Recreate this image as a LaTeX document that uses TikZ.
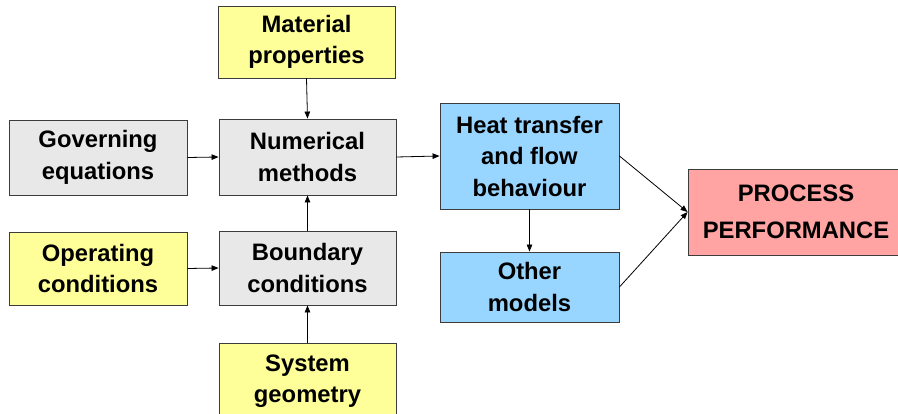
\documentclass[tikz,border=0pt]{standalone}
\usepackage{fontspec}
\setmainfont{Liberation Sans}
\usetikzlibrary{arrows.meta}
\definecolor{boxyellow}{RGB}{255,255,153}
\definecolor{boxgray}{RGB}{232,232,232}
\definecolor{boxblue}{RGB}{153,214,255}
\definecolor{boxpink}{RGB}{255,163,163}
\definecolor{edgegray}{RGB}{60,60,60}
\tikzset{
  box/.style={draw=edgegray, line width=0.9pt, align=center, inner sep=0pt,
    font=\bfseries\fontsize{23.8}{31.5}\selectfont},
  inbox/.style={box, fill=boxyellow},
  midbox/.style={box, fill=boxgray},
  outbox/.style={box, fill=boxblue},
  resultbox/.style={box, fill=boxpink, font=\bfseries\fontsize{23.8}{37}\selectfont},
  flow/.style={draw=black, line width=0.8pt, -{Triangle[length=7pt,width=5.5pt]}}
}
\begin{document}
\begin{tikzpicture}[x=1pt,y=-1pt]
\useasboundingbox (0,0) rectangle (898,414);
% inputs and intermediate boxes
\node[inbox,  minimum width=177pt, minimum height=72pt] (mat) at (306.5,42)  {Material\\properties};
\node[midbox, minimum width=178pt, minimum height=75pt] (gov) at (98,157.5)  {Governing\\equations};
\node[midbox, minimum width=177pt, minimum height=76pt] (num) at (307.5,157) {Numerical\\methods};
\node[inbox,  minimum width=178pt, minimum height=73pt] (op)  at (98,268.5)  {Operating\\conditions};
\node[midbox, minimum width=177pt, minimum height=74pt] (bnd) at (307.5,268) {Boundary\\conditions};
\node[inbox,  minimum width=177pt, minimum height=76pt] (sys) at (307.5,381) {System\\geometry};
% model outputs
\node[outbox, minimum width=179pt, minimum height=106pt] (heat) at (529.5,156) {Heat transfer\\and flow\\behaviour};
\node[outbox, minimum width=179pt, minimum height=70pt]  (oth)  at (529.5,287) {Other\\models};
\node[resultbox, minimum width=216pt, minimum height=86pt] (proc) at (796,212) {PROCESS\\PERFORMANCE};
% connectors
\draw[flow] (mat.south) -- (num.north);
\draw[flow] (gov.east) -- (num.west);
\draw[flow] (op.east) -- (bnd.west);
\draw[flow] (sys.north) -- (bnd.south);
\draw[flow] (bnd.north) -- (num.south);
\draw[flow] (num.east) -- (heat.west);
\draw[flow] (heat.south) -- (oth.north);
\draw[flow] (heat.east) -- (proc.west);
\draw[flow] (oth.east) -- (proc.west);
\end{tikzpicture}
\end{document}
